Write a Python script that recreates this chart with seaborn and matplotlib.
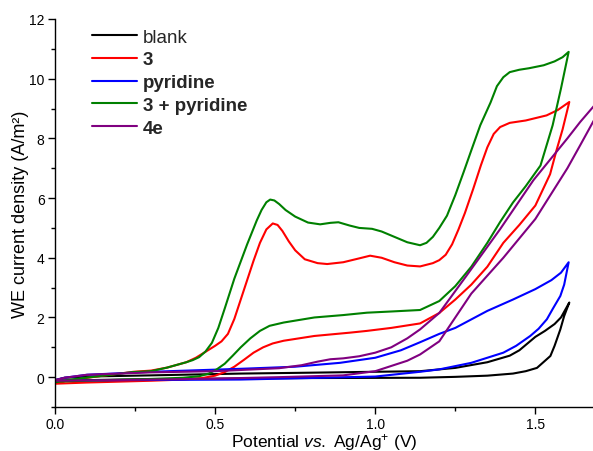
import pandas as pd
import matplotlib
matplotlib.use('Agg')
import matplotlib.pyplot as plt
import seaborn as sns
from matplotlib.ticker import MultipleLocator, FormatStrFormatter

# --- CV data (potential in V, current density in A/m2) ---
# each curve: forward scan 0 -> 1.6 V, then reverse scan back to 0 V
blank_v = [0, 0.03, 0.1, 0.3, 0.58, 0.8, 1.0, 1.14, 1.25, 1.35, 1.42, 1.45, 1.5, 1.53, 1.56, 1.58, 1.606,
           1.59, 1.578, 1.56, 1.547, 1.525, 1.505, 1.47, 1.43, 1.35, 1.25, 1.14, 0.8, 0.5, 0.2, 0]
blank_i = [-0.1, -0.02, 0.02, 0.06, 0.12, 0.15, 0.18, 0.2, 0.31, 0.5, 0.72, 0.9, 1.35, 1.55, 1.78, 2.0, 2.5,
           2.05, 1.6, 1.05, 0.71, 0.5, 0.31, 0.2, 0.12, 0.05, 0.01, -0.02, -0.03, -0.05, -0.08, -0.12]

comp3_v = [0, 0.05, 0.15, 0.245, 0.3, 0.35, 0.41, 0.44, 0.47, 0.5, 0.52, 0.54, 0.56, 0.58, 0.6, 0.62,
           0.64, 0.66, 0.68, 0.695, 0.71, 0.73, 0.75, 0.78, 0.82, 0.85, 0.9, 0.95, 0.984, 1.02, 1.06,
           1.1, 1.14, 1.18, 1.2, 1.22, 1.24, 1.26, 1.28, 1.306, 1.33, 1.35, 1.37, 1.39, 1.42, 1.47,
           1.535, 1.57, 1.606,
           1.585, 1.566, 1.546, 1.5, 1.45, 1.4, 1.35, 1.3, 1.25, 1.2, 1.14, 1.05, 0.974, 0.92, 0.81,
           0.714, 0.68, 0.65, 0.62, 0.59, 0.56, 0.53, 0.5, 0.46, 0.4, 0.3, 0.1, 0]
comp3_i = [-0.18, -0.1, 0.05, 0.18, 0.22, 0.32, 0.5, 0.65, 0.85, 1.05, 1.2, 1.45, 1.95, 2.6, 3.25, 3.9,
           4.5, 4.95, 5.15, 5.1, 4.9, 4.55, 4.25, 3.95, 3.82, 3.79, 3.85, 3.98, 4.07, 4.0, 3.85,
           3.74, 3.71, 3.82, 3.92, 4.1, 4.45, 4.95, 5.5, 6.31, 7.1, 7.7, 8.15, 8.38, 8.52, 8.6,
           8.77, 8.95, 9.22,
           8.3, 7.6, 6.8, 5.75, 5.1, 4.5, 3.7, 3.1, 2.6, 2.15, 1.8, 1.65, 1.55, 1.49, 1.38,
           1.22, 1.13, 1.0, 0.82, 0.58, 0.35, 0.17, 0.05, -0.03, -0.08, -0.12, -0.18, -0.22]

pyr_v = [0, 0.03, 0.1, 0.3, 0.58, 0.75, 0.89, 1.0, 1.08, 1.14, 1.2, 1.25, 1.35, 1.43, 1.5, 1.55, 1.58, 1.604,
         1.59, 1.578, 1.555, 1.536, 1.51, 1.484, 1.44, 1.4, 1.3, 1.2, 1.14, 1.0, 0.58, 0.2, 0]
pyr_i = [-0.1, -0.02, 0.08, 0.18, 0.28, 0.35, 0.48, 0.65, 0.9, 1.17, 1.45, 1.65, 2.22, 2.6, 2.95, 3.25, 3.5, 3.85,
         3.1, 2.72, 2.3, 1.94, 1.62, 1.38, 1.05, 0.82, 0.48, 0.26, 0.18, 0.02, -0.08, -0.1, -0.12]

mix_v = [0, 0.05, 0.15, 0.245, 0.3, 0.35, 0.41, 0.43, 0.45, 0.47, 0.49, 0.51, 0.53, 0.56, 0.6, 0.63, 0.645,
         0.66, 0.672, 0.685, 0.7, 0.72, 0.75, 0.79, 0.828, 0.86, 0.885, 0.92, 0.95, 0.99, 1.02, 1.06,
         1.1, 1.14, 1.16, 1.18, 1.2, 1.224, 1.25, 1.276, 1.3, 1.328, 1.36, 1.38, 1.4, 1.42, 1.45, 1.48,
         1.526, 1.56, 1.585, 1.604,
         1.58, 1.554, 1.516, 1.47, 1.43, 1.39, 1.35, 1.3, 1.25, 1.2, 1.14, 1.05, 0.974, 0.9, 0.81,
         0.714, 0.67, 0.64, 0.61, 0.58, 0.555, 0.53, 0.505, 0.48, 0.45, 0.4, 0.3, 0.1, 0]
mix_i = [-0.15, -0.08, 0.05, 0.17, 0.2, 0.32, 0.5, 0.57, 0.67, 0.86, 1.15, 1.65, 2.3, 3.3, 4.45, 5.25, 5.6,
         5.86, 5.95, 5.92, 5.8, 5.6, 5.38, 5.18, 5.12, 5.17, 5.19, 5.08, 5.0, 4.97, 4.88, 4.7,
         4.52, 4.42, 4.5, 4.7, 5.0, 5.41, 6.1, 6.87, 7.6, 8.44, 9.2, 9.75, 10.05, 10.22, 10.3, 10.35,
         10.45, 10.58, 10.72, 10.9,
         9.67, 8.44, 7.09, 6.4, 5.85, 5.2, 4.5, 3.7, 3.05, 2.55, 2.25, 2.2, 2.16, 2.08, 2.0,
         1.83, 1.72, 1.55, 1.3, 1.0, 0.72, 0.45, 0.26, 0.12, 0.03, -0.02, -0.06, -0.12, -0.15]

c4e_v = [0, 0.03, 0.1, 0.3, 0.5, 0.6, 0.7, 0.77, 0.82, 0.86, 0.9, 0.95, 1.0, 1.05, 1.1, 1.14, 1.2,
         1.285, 1.39, 1.494, 1.6, 1.64, 1.68, 1.72,
         1.72, 1.68, 1.64, 1.6, 1.5, 1.4, 1.3, 1.25, 1.2, 1.14, 1.1, 1.0, 0.9, 0.7, 0.5, 0.2, 0]
c4e_i = [-0.1, -0.02, 0.08, 0.16, 0.2, 0.25, 0.3, 0.4, 0.52, 0.6, 0.63, 0.7, 0.82, 1.0, 1.3, 1.6, 2.15,
         3.4, 4.96, 6.6, 8.0, 8.55, 9.05, 9.55,
         9.3, 8.55, 7.77, 7.0, 5.3, 4.0, 2.8, 2.0, 1.2, 0.76, 0.55, 0.2, 0.06, 0.0, -0.05, -0.1, -0.12]

labels = ['blank', '3', 'pyridine', '3 + pyridine', '4e']
colors = ['black', '#ff0000', '#0000ff', '#008000', '#800080']
curves = [(blank_v, blank_i), (comp3_v, comp3_i), (pyr_v, pyr_i), (mix_v, mix_i), (c4e_v, c4e_i)]

frames = []
for lab, (v, i) in zip(labels, curves):
    frames.append(pd.DataFrame({'E': v, 'j': i, 'sample': lab}))
df = pd.concat(frames, ignore_index=True)

sns.set_theme(style="ticks")
plt.rcParams['font.family'] = ['Liberation Sans', 'DejaVu Sans']
plt.rcParams['mathtext.fontset'] = 'custom'
plt.rcParams['mathtext.rm'] = 'Liberation Sans'
plt.rcParams['mathtext.it'] = 'Liberation Sans:italic'

fig = plt.figure(figsize=(5.93, 4.52), dpi=100)
ax = fig.add_axes([55 / 593, 1 - 408 / 452, 538 / 593, 388 / 452])

sns.lineplot(data=df, x='E', y='j', hue='sample', hue_order=labels,
             palette=dict(zip(labels, colors)), sort=False, estimator=None,
             units='sample', linewidth=1.5, ax=ax)

ax.set_xlim(0, 1.68)
ax.set_ylim(-1, 12)
ax.xaxis.set_major_locator(MultipleLocator(0.5))
ax.xaxis.set_minor_locator(MultipleLocator(0.25))
ax.yaxis.set_major_locator(MultipleLocator(2))
ax.yaxis.set_minor_locator(MultipleLocator(1))
ax.xaxis.set_major_formatter(FormatStrFormatter('%.1f'))
ax.tick_params(which='major', direction='out', length=5, width=1, labelsize=10,
               color='black', labelcolor='black', pad=2.5)
ax.tick_params(which='minor', direction='out', length=3, width=1, color='black')
for s in ['top', 'right']:
    ax.spines[s].set_visible(False)
for s in ['left', 'bottom']:
    ax.spines[s].set_color('black')
    ax.spines[s].set_linewidth(1)

ax.set_xlabel(r'Potential $\it{vs.}$ Ag/Ag$^{+}$ (V)', fontsize=12.5, labelpad=-0.5, color='black')
ax.set_ylabel('WE current density (A/m²)', fontsize=13, labelpad=0, color='black')

leg = ax.legend(loc='upper left', bbox_to_anchor=(0.055, 0.995), borderaxespad=0, frameon=False,
                fontsize=13.5, handlelength=2.4, handletextpad=0.3, labelspacing=0.3)
for t in leg.get_texts():
    if t.get_text() != 'blank':
        t.set_fontweight('bold')

fig.savefig('out.png', dpi=100)
